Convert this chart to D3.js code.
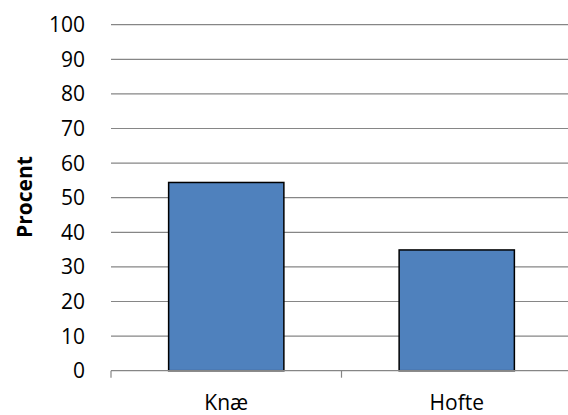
<!DOCTYPE html>
<html>
<head>
<meta charset="utf-8">
<script src="https://cdn.jsdelivr.net/npm/d3@7"></script>
<style>
  html, body { margin: 0; padding: 0; background: #fff; }
  svg { display: block; }
  text { font-family: "Open Sans", "Noto Sans", sans-serif; fill: #000; }
</style>
</head>
<body>
<svg id="chart" width="568" height="415"></svg>
<script>
// Share of cases per joint (percent)
const categories = ["Knæ", "Hofte"];
const values = [54.4, 34.9];
const yTicks = [0, 10, 20, 30, 40, 50, 60, 70, 80, 90, 100];
const yTitle = "Procent";

const svg = d3.select("#chart");
const plotLeft = 111, plotRight = 572, plotTop = 24.7, plotBottom = 370.7;

const y = d3.scaleLinear().domain([0, 100]).range([plotBottom, plotTop]);
const x = d3.scaleBand().domain(categories).range([plotLeft, plotRight])
  .paddingInner(0.5).paddingOuter(0.25);
const xEdge = d3.scaleBand().domain(categories).range([plotLeft, plotRight]);

// horizontal gridlines
svg.append("g").selectAll("line").data(yTicks.filter(d => d > 0)).join("line")
  .attr("x1", plotLeft).attr("x2", plotRight)
  .attr("y1", d => y(d)).attr("y2", d => y(d))
  .attr("stroke", "#868686").attr("stroke-width", 1.2);

// y tick labels
svg.append("g").selectAll("text").data(yTicks).join("text")
  .attr("x", 85).attr("y", d => y(d))
  .attr("dy", "0.36em")
  .attr("text-anchor", "end")
  .style("font-size", "21px")
  .text(d => d);

// bars
svg.append("g").selectAll("rect").data(values).join("rect")
  .attr("x", (d, i) => x(categories[i]))
  .attr("width", x.bandwidth())
  .attr("y", d => y(d))
  .attr("height", d => y(0) - y(d))
  .attr("fill", "#4F81BD")
  .attr("stroke", "#000").attr("stroke-width", 1.5);

// x axis baseline with category separators
const axis = svg.append("g");
axis.append("line")
  .attr("x1", plotLeft).attr("x2", plotRight)
  .attr("y1", y(0)).attr("y2", y(0))
  .attr("stroke", "#868686").attr("stroke-width", 1.2);
const tickPos = categories.map(c => xEdge(c)).concat([plotRight]);
axis.selectAll("line.tick").data(tickPos).join("line")
  .attr("class", "tick")
  .attr("x1", d => d).attr("x2", d => d)
  .attr("y1", y(0)).attr("y2", y(0) + 7)
  .attr("stroke", "#868686").attr("stroke-width", 1.2);

// category labels
svg.append("g").selectAll("text").data(categories).join("text")
  .attr("x", d => xEdge(d) + xEdge.bandwidth() / 2)
  .attr("y", 410)
  .attr("text-anchor", "middle")
  .style("font-size", "21px")
  .text(d => d);

// y axis title
svg.append("text")
  .attr("transform", "translate(32, 197) rotate(-90)")
  .attr("text-anchor", "middle")
  .style("font-size", "21px")
  .style("font-weight", "bold")
  .text(yTitle);
</script>
</body>
</html>
